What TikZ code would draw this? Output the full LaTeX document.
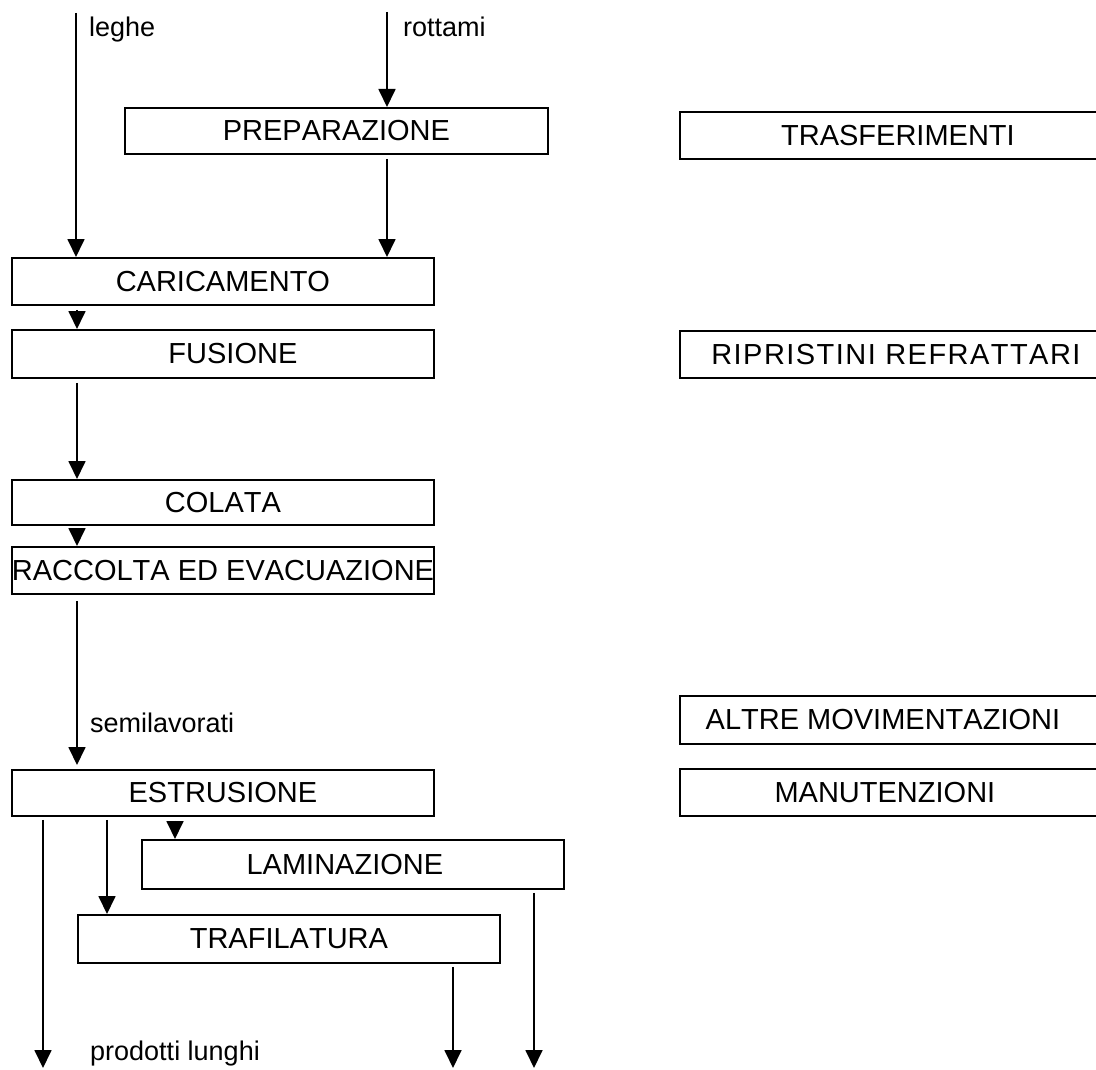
\documentclass[tikz,border=0pt]{standalone}
\usepackage{fontspec}
\setmainfont{Liberation Sans}
\newfontfamily\boxfont[Kerning=Off]{Liberation Sans}
\newfontfamily\widefont[Kerning=Off,LetterSpace=5]{Liberation Sans}
\usetikzlibrary{arrows.meta,calc}
\begin{document}
\begin{tikzpicture}[x=1pt,y=-1pt,
  box/.style={draw, line width=1.8pt, rectangle, inner sep=0pt, anchor=north west,
              minimum height=47pt, font=\boxfont\fontsize{29}{33}\selectfont},
  lbox/.style={box, minimum width=422pt},
  rbox/.style={box, minimum width=436pt},
  flow/.style={line width=1.8pt, -{Triangle[length=18pt,width=17pt]}},
  lbl/.style={anchor=base west, inner sep=0pt, font=\fontsize{27}{31}\selectfont}]
\useasboundingbox (0,0) rectangle (1096,1070);
\clip (0,0) rectangle (1096,1070);
\fill[white] (0,0) rectangle (1096,1070);

% process boxes, left column
\node[box, minimum width=423pt, minimum height=46pt] (prep) at (124,107) {PREPARAZIONE};
\node[lbox] (car) at (11,257) {CARICAMENTO};
\node[lbox, minimum height=48pt] (fus) at (11,329) {\hspace*{20pt}FUSIONE};
\node[lbox, minimum height=45pt] (col) at (11,479) {COLATA};
\node[lbox] (rac) at (11,546) {RACCOLTA ED EVACUAZIONE};
\node[lbox, minimum height=46pt] (est) at (11,769) {ESTRUSIONE};
\node[lbox, minimum height=49pt] (lam) at (141,839) {\hspace*{-16pt}LAMINAZIONE};
\node[lbox, minimum height=48pt] (traf) at (77,914) {TRAFILATURA};

% auxiliary activities, right column
\node[rbox] (trasf) at (679,111) {TRASFERIMENTI};
\node[rbox] (ripr) at (679,330) {\hspace*{-4pt}\widefont RIPRISTINI REFRATTARI};
\node[rbox, minimum height=48pt] (altre) at (679,695) {\hspace*{-30pt}ALTRE MOVIMENTAZIONI};
\node[rbox] (manut) at (679,768) {\hspace*{-26pt}MANUTENZIONI};

% inputs and outputs
\coordinate (legheTop) at (76,13);
\coordinate (rotTop) at (387,12);
\coordinate (outA) at (43,1068);
\coordinate (outB) at (453,1068);
\coordinate (outC) at (534,1068);

% flow labels
\node[lbl] (leghe) at (89,37) {leghe};
\node[lbl] (rottami) at (403,37) {rottami};
\node[lbl] (semi) at (90,732) {semilavorati};
\node[lbl] (prod) at (90,1060) {prodotti lunghi};

% material flow
\draw[flow] (legheTop) -- (legheTop |- car.north);
\draw[flow] (rotTop) -- (rotTop |- prep.north);
\draw[flow] ($(prep.south -| rotTop)+(0,4)$) -- (rotTop |- car.north);
\draw[flow] ($(car.south west)+(66,4)$) -- ($(fus.north west)+(66,0)$);
\draw[flow] ($(fus.south west)+(66,4)$) -- ($(col.north west)+(66,0)$);
\draw[flow] ($(col.south west)+(66,4)$) -- ($(rac.north west)+(66,0)$);
\draw[flow] ($(rac.south west)+(66,6)$) -- ($(est.north west)+(66,-4)$);
\draw[flow] ($(est.south west)+(32,3)$) -- (outA);
\draw[flow] ($(est.south west)+(96,3)$) -- ($(traf.north west)+(30,0)$);
\draw[flow] ($(est.south west)+(164,4)$) -- ($(lam.north west)+(34,0)$);
\draw[flow] ($(lam.south west)+(393,3)$) -- (outC);
\draw[flow] ($(traf.south west)+(376,3)$) -- (outB);
\end{tikzpicture}
\end{document}
